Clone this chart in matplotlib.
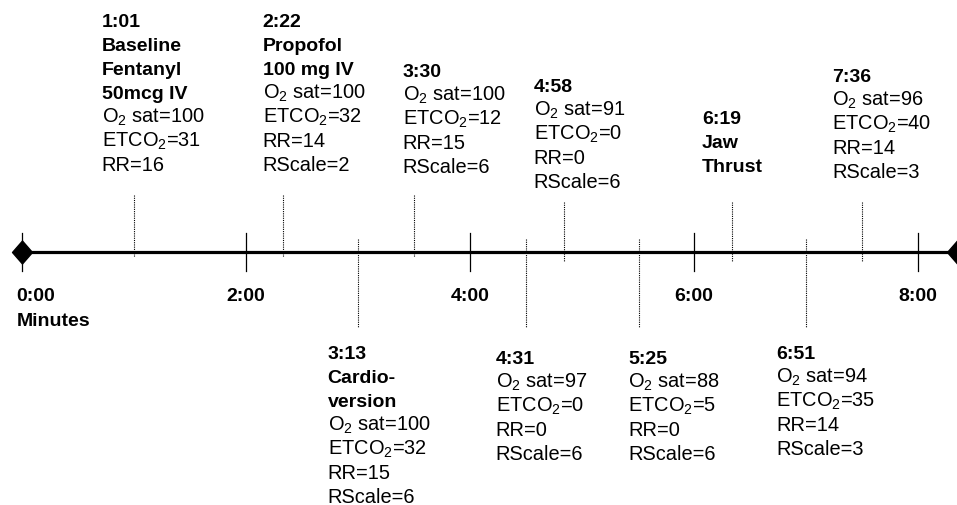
import matplotlib
matplotlib.use("Agg")
import matplotlib.pyplot as plt

plt.rcParams['font.family'] = ['Liberation Sans', 'DejaVu Sans']
plt.rcParams['mathtext.fontset'] = 'custom'
plt.rcParams['mathtext.rm'] = 'Liberation Sans'
plt.rcParams['mathtext.it'] = 'Liberation Sans'
plt.rcParams['mathtext.bf'] = 'Liberation Sans:bold'
plt.rcParams['mathtext.default'] = 'regular'

# ---------------- data ----------------
tick_minutes = [0, 2, 4, 6, 8]
tick_labels = ['0:00', '2:00', '4:00', '6:00', '8:00']
axis_end = 8.35

event_times = ['1:01', '2:22', '3:13', '3:30', '4:31', '4:58', '5:25', '6:19', '6:51', '7:36']
event_pos = [1.0, 2.33, 3.0, 3.5, 4.5, 4.84, 5.51, 6.34, 7.0, 7.5]
event_titles = [['Baseline', 'Fentanyl', '50mcg IV'], ['Propofol', '100 mg IV'],
                ['Cardio-', 'version'], [], [], [], [], ['Jaw', 'Thrust'], [], []]
o2_sat = [100, 100, 100, 100, 97, 91, 88, None, 94, 96]
etco2 = [31, 32, 32, 12, 0, 0, 5, None, 35, 40]
rr = [16, 14, 15, 15, 0, 0, 0, None, 14, 14]
rscale = [None, 2, 6, 6, 6, 6, 6, None, 3, 3]
above = [True, True, False, True, False, True, False, True, False, True]

# ---------------- layout (pixels) ----------------
W, H, DPI = 957, 505, 100
PX_PER_MIN = 112.0
X0_PX = 21.7
LINE_Y = 252
LINE_STEP = 24
FS_BOLD = 14.0
FS_NORM = 14.4
BASE_OFF = 6.8
text_offset_px = [32, 20, 30, 11, 30, 30, 10.6, 30, 29.6, 29.6]
block_top_px = [20, 20, 352, 70, 357, 85, 357, 117, 352, 75]
dot_span_px = [(195, 257), (195, 257), (239, 327), (195, 257), (239, 327),
               (202, 261), (239, 327), (202, 261), (239, 327), (202, 261)]

fig = plt.figure(figsize=(W / DPI, H / DPI), dpi=DPI)
ax = fig.add_axes([0, 0, 1, 1])
ax.set_xlim(-X0_PX / PX_PER_MIN, (W - X0_PX) / PX_PER_MIN)
ax.set_ylim(H, 0)
ax.axis('off')

# main axis line
ax.plot([0, axis_end], [LINE_Y, LINE_Y], color='black', lw=2.3, solid_capstyle='butt', zorder=3)
diamond = [(0, 1.15), (1, 0), (0, -1.15), (-1, 0), (0, 1.15)]
ax.plot([0, axis_end], [LINE_Y, LINE_Y], ls='none', marker=diamond, markersize=16.5,
        color='black', zorder=4)

# major ticks and labels
for m, lab in zip(tick_minutes, tick_labels):
    ax.plot([m, m], [233, 271], color='black', lw=0.9, zorder=3)
    if m == 0:
        ax.text(m - 5 / PX_PER_MIN, 294 + BASE_OFF, lab, ha='left', va='baseline',
                fontsize=FS_BOLD, fontweight='bold')
    else:
        ax.text(m, 294 + BASE_OFF, lab, ha='center', va='baseline', fontsize=FS_BOLD,
                fontweight='bold')
ax.text(-5 / PX_PER_MIN, 319 + BASE_OFF, 'Minutes', ha='left', va='baseline',
        fontsize=FS_BOLD, fontweight='bold')

# events
for i, t in enumerate(event_times):
    x = event_pos[i]
    y0, y1 = dot_span_px[i]
    ax.plot([x, x], [y0, y1], color='black', lw=0.8, ls=(0, (1.0, 1.0)), zorder=2)
    lines = [(t, True)] + [(s, True) for s in event_titles[i]]
    if o2_sat[i] is not None:
        lines.append((r'O$_2$ sat=%d' % o2_sat[i], False))
    if etco2[i] is not None:
        lines.append((r'ETCO$_2$=%d' % etco2[i], False))
    if rr[i] is not None:
        lines.append(('RR=%d' % rr[i], False))
    if rscale[i] is not None:
        lines.append(('RScale=%d' % rscale[i], False))
    tx = x - text_offset_px[i] / PX_PER_MIN
    for k, (s, bold) in enumerate(lines):
        yc = block_top_px[i] + k * LINE_STEP
        ax.text(tx, yc + BASE_OFF, s, ha='left', va='baseline',
                fontsize=FS_BOLD if bold else FS_NORM,
                fontweight='bold' if bold else 'normal')

fig.savefig('out.png', dpi=DPI)
